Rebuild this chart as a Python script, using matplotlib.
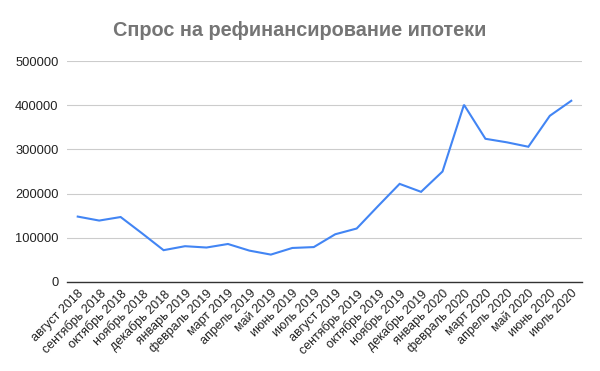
import matplotlib.pyplot as plt

plt.rcParams['font.family'] = ['Liberation Sans', 'DejaVu Sans']

months = ['август 2018', 'сентябрь 2018', 'октябрь 2018', 'ноябрь 2018', 'декабрь 2018',
          'январь 2019', 'февраль 2019', 'март 2019', 'апрель 2019', 'май 2019', 'июнь 2019',
          'июль 2019', 'август 2019', 'сентябрь 2019', 'октябрь 2019', 'ноябрь 2019',
          'декабрь 2019', 'январь 2020', 'февраль 2020', 'март 2020', 'апрель 2020',
          'май 2020', 'июнь 2020', 'июль 2020']
demand = [148000, 139000, 147000, 110000, 72000, 81000, 78000, 86000, 71000, 62000, 77000,
          79000, 108000, 121000, 172000, 222000, 204000, 250000, 401000, 324000, 316000,
          306000, 376000, 410000]
yticks = [0, 100000, 200000, 300000, 400000, 500000]

fig = plt.figure(figsize=(6, 3.71), dpi=100)
ax = fig.add_axes([67/600, 1-282/371, 515/600, 221/371])

x = range(len(months))
ax.plot(x, demand, color='#4285F4', lw=1.5, solid_joinstyle='miter')

ax.set_xlim(-0.5, len(months) - 0.5)
ax.set_ylim(0, 500000)
ax.set_yticks(yticks)
ax.set_yticklabels([str(v) for v in yticks])
ax.set_xticks(list(x))
ax.set_xticklabels(months, rotation=45, ha='right', rotation_mode='anchor')
ax.tick_params(length=0, labelsize=9.3, colors='#222222')
ax.tick_params(axis='x', labelsize=9, pad=4)
ax.tick_params(axis='y', pad=6)

ax.grid(axis='y', color='#cccccc', lw=0.8)
ax.set_axisbelow(True)
for s in ['top', 'right', 'left']:
    ax.spines[s].set_visible(False)
ax.spines['bottom'].set_color('#333333')
ax.spines['bottom'].set_linewidth(1)

fig.text(0.5, 1-31/371, 'Спрос на рефинансирование ипотеки', ha='center', va='center',
         fontsize=14.3, fontweight='bold', color='#757575')

plt.savefig('out.png', dpi=100)
